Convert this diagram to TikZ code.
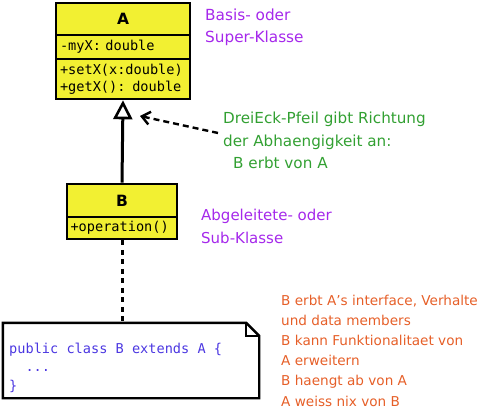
\documentclass[tikz,border=0pt]{standalone}
\usepackage{fontspec}
\setmainfont{DejaVu Sans}
\newfontfamily\umlmono{DejaVu Sans Mono}
\usetikzlibrary{arrows.meta}
\definecolor{umlyellow}{RGB}{242,240,50}
\definecolor{lpurple}{RGB}{165,40,235}
\definecolor{lgreen}{RGB}{50,160,50}
\definecolor{lorange}{RGB}{230,95,40}
\definecolor{codeblue}{RGB}{75,55,225}
\begin{document}
\begin{tikzpicture}[x=1pt,y=-1pt,
  comp/.style={draw=black, line width=2.6pt, fill=umlyellow, inner sep=0pt},
  cname/.style={comp, font=\bfseries\fontsize{15.5}{19}\selectfont},
  cbody/.style={comp, align=left, font=\umlmono\fontsize{13.6}{17}\selectfont},
  lbl/.style={anchor=west, inner sep=0pt, align=left}]
\useasboundingbox (0,0) rectangle (478,417);
% class A
\node[cname, minimum width=134pt, minimum height=32pt] (Aname) at (123,19) {A};
\node[cbody, minimum width=134pt, minimum height=24pt, text width=126pt] (Aattr) at (123,47) {-myX: double};
\node[cbody, minimum width=134pt, minimum height=40pt, text width=126pt] (Aops) at (123,79) {+setX(x:double)\\+getX(): double};
% class B
\node[cname, minimum width=110pt, minimum height=33pt] (Bname) at (122,200.5) {B};
\node[cbody, minimum width=110pt, minimum height=22pt, text width=103pt] (Bops) at (122,228) {+operation()};
% inheritance
\draw[line width=3pt, -{Triangle[open, length=19pt, width=19pt, line width=2.6pt]}] (Bname.north) -- (Aops.south);
% note
\node[minimum width=256pt, minimum height=75pt, inner sep=0pt] (note) at (131,360.5) {};
\draw[line width=2.4pt, line join=miter] (note.north west) -- ([xshift=-13pt]note.north east) -- ([yshift=-13pt]note.north east) -- (note.south east) -- (note.south west) -- cycle;
\draw[line width=1.8pt] ([xshift=-13pt]note.north east) |- ([yshift=-13pt]note.north east);
\node[lbl, text=codeblue, font=\umlmono\fontsize{13.6}{18.5}\selectfont] (code) at (9,367.5) {public class B extends A \{\\\hspace*{16.3pt}...\\\}};
\draw[line width=3pt, dash pattern=on 5pt off 4.5pt] (Bops.south) -- (Bops.south |- note.north);
% labels
\node[lbl, text=lpurple, font=\fontsize{15.3}{21.5}\selectfont] (super) at (205,27.5) {Basis- oder\\Super-Klasse};
\node[lbl, text=lpurple, font=\fontsize{15}{23}\selectfont] (sub) at (201,226.5) {Abgeleitete- oder\\Sub-Klasse};
\node[lbl, text=lgreen, font=\fontsize{15.2}{22.5}\selectfont] (gtext) at (223,140.5) {DreiEck-Pfeil gibt Richtung\\der Abhaengigkeit an:\\\hspace*{10pt}B erbt von A};
\node[lbl, text=lorange, font=\fontsize{13.6}{20.2}\selectfont] (otext) at (281,350.5) {B erbt A{\char"27}s interface, Verhalte\\und data members\\B kann Funktionalitaet von\\A erweitern\\B haengt ab von A\\A weiss nix von B};
% dashed pointer
\coordinate (dstart) at (218,133);
\coordinate (dtip) at (140,116);
\draw[line width=2.4pt, dash pattern=on 6pt off 4pt, -{Straight Barb[length=8pt, width=13pt, line width=2.4pt]}] (dstart) -- (dtip);
\end{tikzpicture}
\end{document}
